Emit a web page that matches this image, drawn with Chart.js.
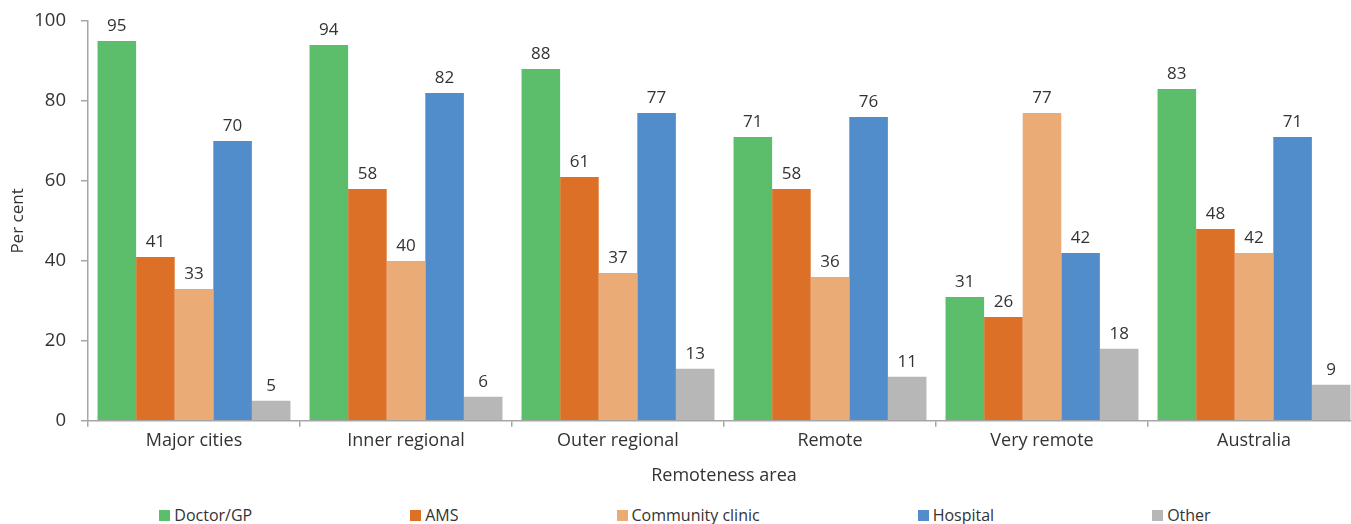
<!DOCTYPE html>
<html>
<head>
<meta charset="utf-8">
<script src="https://cdn.jsdelivr.net/npm/chart.js@4.4.1/dist/chart.umd.min.js"></script>
<style>
  html, body { margin: 0; padding: 0; background: #fff; overflow: hidden; }
  #wrap { position: relative; width: 1364px; height: 524px; }
  #chart-box { position: absolute; left: 0; top: -5px; width: 1364px; height: 492px; }
  #legend {
    position: absolute; left: 3px; top: 504px; width: 1364px;
    display: flex; justify-content: center; gap: 158px;
    font-family: "Open Sans", sans-serif; font-size: 16px; color: #333;
  }
  .legend-item { display: flex; align-items: center; white-space: nowrap; }
  .legend-box { width: 11px; height: 11px; margin-right: 4px; }
</style>
</head>
<body>
<div id="wrap">
  <div id="chart-box"><canvas id="remoteness-chart"></canvas></div>
  <div id="legend"></div>
</div>
<script>
const categories = ["Major cities", "Inner regional", "Outer regional", "Remote", "Very remote", "Australia"];
const doctorGP = [95, 94, 88, 71, 31, 83];
const ams = [41, 58, 61, 58, 26, 48];
const communityClinic = [33, 40, 37, 36, 77, 42];
const hospital = [70, 82, 77, 76, 42, 71];
const other = [5, 6, 13, 11, 18, 9];
const yTicks = [0, 20, 40, 60, 80, 100];

const FONT = "'Open Sans', sans-serif";
const TEXT = "#333333";
const AXIS = "#a6a6a6";

// Draw the value above each bar
const barValueLabels = {
  id: "barValueLabels",
  afterDatasetsDraw(chart) {
    const ctx = chart.ctx;
    ctx.save();
    ctx.font = "17px " + FONT;
    ctx.fillStyle = TEXT;
    ctx.textAlign = "center";
    ctx.textBaseline = "bottom";
    chart.data.datasets.forEach((ds, i) => {
      chart.getDatasetMeta(i).data.forEach((bar, j) => {
        ctx.fillText(String(ds.data[j]), bar.x, bar.y - 6);
      });
    });
    ctx.restore();
  },
};

const series = [
  { label: "Doctor/GP", data: doctorGP, color: "#5cbd6b" },
  { label: "AMS", data: ams, color: "#dd7027" },
  { label: "Community clinic", data: communityClinic, color: "#eaab77" },
  { label: "Hospital", data: hospital, color: "#518dcb" },
  { label: "Other", data: other, color: "#b7b7b7" },
];

new Chart(document.getElementById("remoteness-chart"), {
  type: "bar",
  data: {
    labels: categories,
    datasets: series.map((s) => ({
      label: s.label,
      data: s.data,
      backgroundColor: s.color,
      borderWidth: 0,
      barPercentage: 1,
      categoryPercentage: 0.91,
    })),
  },
  options: {
    responsive: true,
    maintainAspectRatio: false,
    animation: false,
    layout: { padding: { top: 2, right: 4, left: 4, bottom: 0 } },
    plugins: {
      legend: { display: false },
      tooltip: { enabled: false },
    },
    scales: {
      x: {
        grid: {
          offset: true,
          drawOnChartArea: false,
          drawTicks: true,
          tickLength: 6,
          color: AXIS,
          lineWidth: 1.5,
        },
        border: { color: AXIS, width: 1.5 },
        ticks: { color: TEXT, font: { family: FONT, size: 18 }, padding: 3, maxRotation: 0 },
        title: {
          display: true,
          text: "Remoteness area",
          color: TEXT,
          font: { family: FONT, size: 18 },
          padding: { top: 11, bottom: 0 },
        },
      },
      y: {
        min: 0,
        max: 100,
        afterBuildTicks(axis) {
          axis.ticks = yTicks.map((v) => ({ value: v }));
        },
        afterFit(axis) {
          axis.width = 84;
        },
        grid: {
          drawOnChartArea: false,
          drawTicks: true,
          tickLength: 7,
          color: AXIS,
          lineWidth: 1.5,
        },
        border: { color: AXIS, width: 1.5 },
        ticks: { color: TEXT, font: { family: FONT, size: 18.5 }, padding: 15 },
        title: {
          display: true,
          text: "Per cent",
          color: TEXT,
          font: { family: FONT, size: 17 },
          padding: { top: 4, bottom: 0 },
        },
      },
    },
  },
  plugins: [barValueLabels],
});

// Legend below the chart
const htmlLegend = document.getElementById("legend");
series.forEach((s) => {
  const item = document.createElement("div");
  item.className = "legend-item";
  item.innerHTML = `<span class="legend-box" style="background:${s.color}"></span><span>${s.label}</span>`;
  htmlLegend.appendChild(item);
});
</script>
</body>
</html>
